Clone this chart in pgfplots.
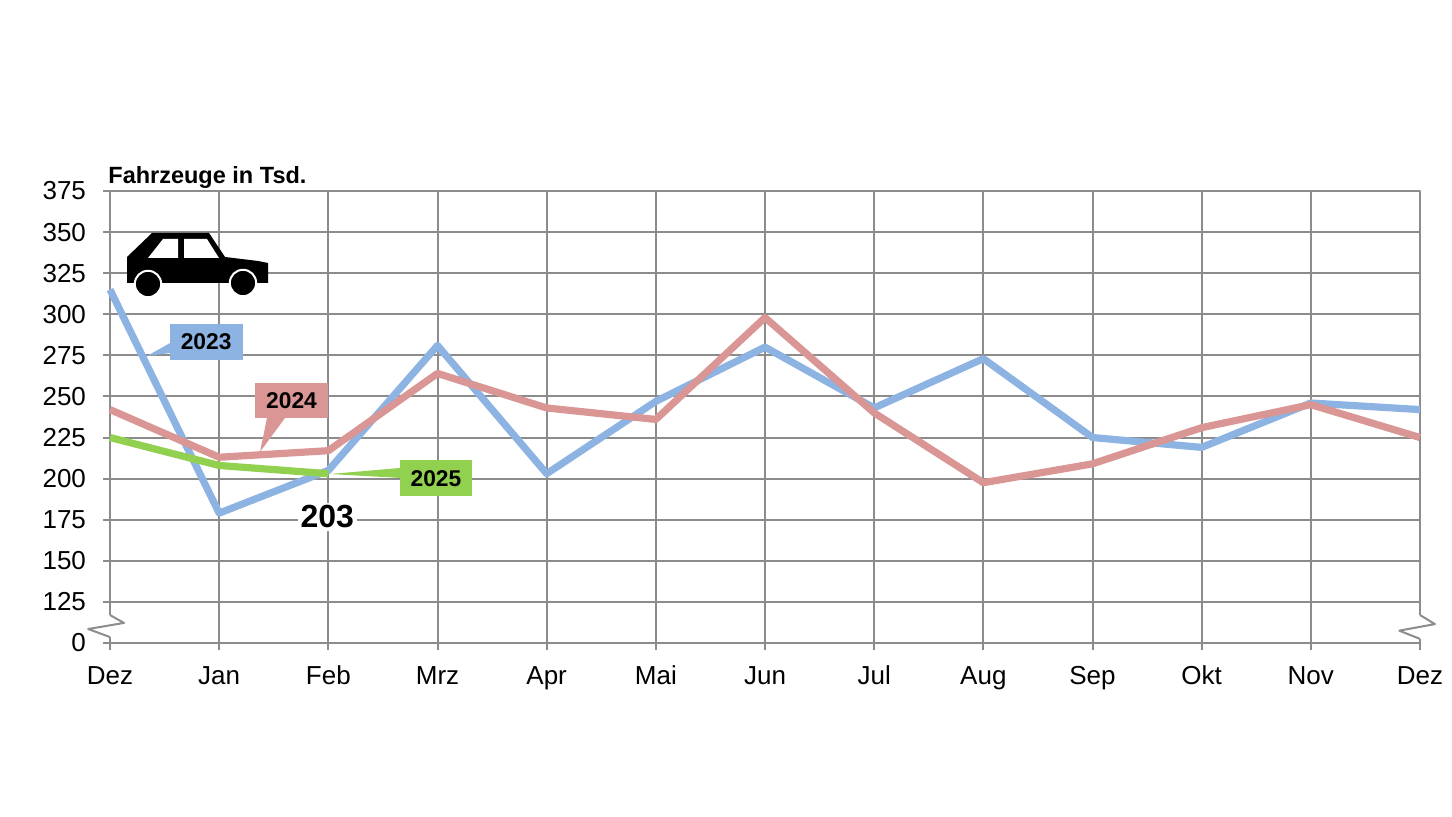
\documentclass[border=0pt]{standalone}
\usepackage{fontspec}
\setmainfont{Liberation Sans}
\usepackage{pgfplots}
\pgfplotsset{compat=1.18}
\definecolor{cblue}{HTML}{8DB3E2}
\definecolor{cred}{HTML}{D99694}
\definecolor{cgreen}{HTML}{92D050}
\definecolor{gridgray}{HTML}{8C8C8C}
\begin{document}
\begin{tikzpicture}
\path[use as bounding box] (0,0) rectangle (726pt,408.5pt);
\begin{axis}[
  at={(55pt,87pt)}, anchor=south west,
  scale only axis, width=655pt, height=226pt,
  xmin=0, xmax=12, ymin=100, ymax=375,
  xtick={0,1,...,12},
  xticklabels={Dez,Jan,Feb,Mrz,Apr,Mai,Jun,Jul,Aug,Sep,Okt,Nov,Dez},
  ytick={100,125,150,175,200,225,250,275,300,325,350,375},
  yticklabels={0,125,150,175,200,225,250,275,300,325,350,375},
  grid=major,
  grid style={color=gridgray, line width=1pt},
  axis line style={gridgray, line width=1pt},
  tick style={gridgray, line width=1pt},
  tick align=outside, major tick length=3.5pt,
  tick pos=left,
  clip=false,
  ticklabel style={font=\fontsize{13}{15}\selectfont, text=black},
  xticklabel style={text height=9.3pt, text depth=0pt, yshift=-4.4pt},
  yticklabel style={xshift=-5pt},
  /pgf/number format/assume math mode=true,
  line join=round,
]
\addplot[cblue, line width=3.6pt] coordinates {(0,315)(1,179)(2,205)(3,281)(4,203)(5,247)(6,280)(7,243)(8,273)(9,225)(10,219)(11,246)(12,242)};
\addplot[cred, line width=3.6pt] coordinates {(0,242)(1,213)(2,217)(3,264)(4,243)(5,236)(6,298)(7,240)(8,197.5)(9,209)(10,231)(11,245)(12,225)};
\addplot[cgreen, line width=3.6pt] coordinates {(0,225)(1,208)(2,203)};
% callouts
\fill[cblue] (axis cs:0.55,282.5) -- (axis cs:0.339,274.6) -- (axis cs:0.55,276.4) -- cycle;
\node[fill=cblue, minimum width=36.5pt, minimum height=18pt, inner sep=0pt, font=\fontsize{11.4}{13}\bfseries] at (axis cs:0.881,283.4) {2023};
\fill[cred] (axis cs:1.438,236.9) -- (axis cs:1.374,216.2) -- (axis cs:1.603,236.9) -- cycle;
\node[fill=cred, minimum width=36.5pt, minimum height=17.5pt, inner sep=0pt, font=\fontsize{11.4}{13}\bfseries] at (axis cs:1.663,247.5) {2024};
\fill[cgreen] (axis cs:2.66,206.5) -- (axis cs:2.015,202.8) -- (axis cs:2.66,200.4) -- cycle;
\node[fill=cgreen, minimum width=36pt, minimum height=18pt, inner sep=0pt, font=\fontsize{11.4}{13}\bfseries] at (axis cs:2.986,200.1) {2025};
\node[fill=white, inner sep=1.5pt, font=\fontsize{16}{18}\bfseries] at (axis cs:1.99,176.7) {203};
% axis breaks
\draw[white, line width=2pt] (axis cs:0,103.6) -- (axis cs:0,117);
\draw[gridgray, line width=1pt] (axis cs:0,117) -- (axis cs:0.128,112.2) -- (axis cs:-0.2,108.5) -- (axis cs:0,103.6);
\draw[white, line width=2pt] (axis cs:12,102.5) -- (axis cs:12,117);
\draw[gridgray, line width=1pt] (axis cs:12,117) -- (axis cs:12.137,111.5) -- (axis cs:11.81,107.5) -- (axis cs:12,102.5);
\end{axis}
\begin{scope}[x=0.5pt,y=-0.5pt,shift={(0pt,408.5pt)}]
\node[anchor=base west, inner sep=0pt, font=\fontsize{11.75}{13}\bfseries] at (108,184) {Fahrzeuge in Tsd.};
\fill[black] (127,283) -- (127,257) -- (152,233) -- (209,233) -- (225,257) -- (258,261) -- (268,263) -- (268,283) -- cycle;
\fill[white] (148,258) -- (163,239) -- (178,239) -- (178,258) -- cycle;
\fill[white] (184,239) -- (207,239) -- (219,258) -- (184,258) -- cycle;
\fill[black, draw=white, line width=1pt] (148,284) circle (6.6pt);
\fill[black, draw=white, line width=1pt] (243,283) circle (6.6pt);
\end{scope}
\end{tikzpicture}
\end{document}
